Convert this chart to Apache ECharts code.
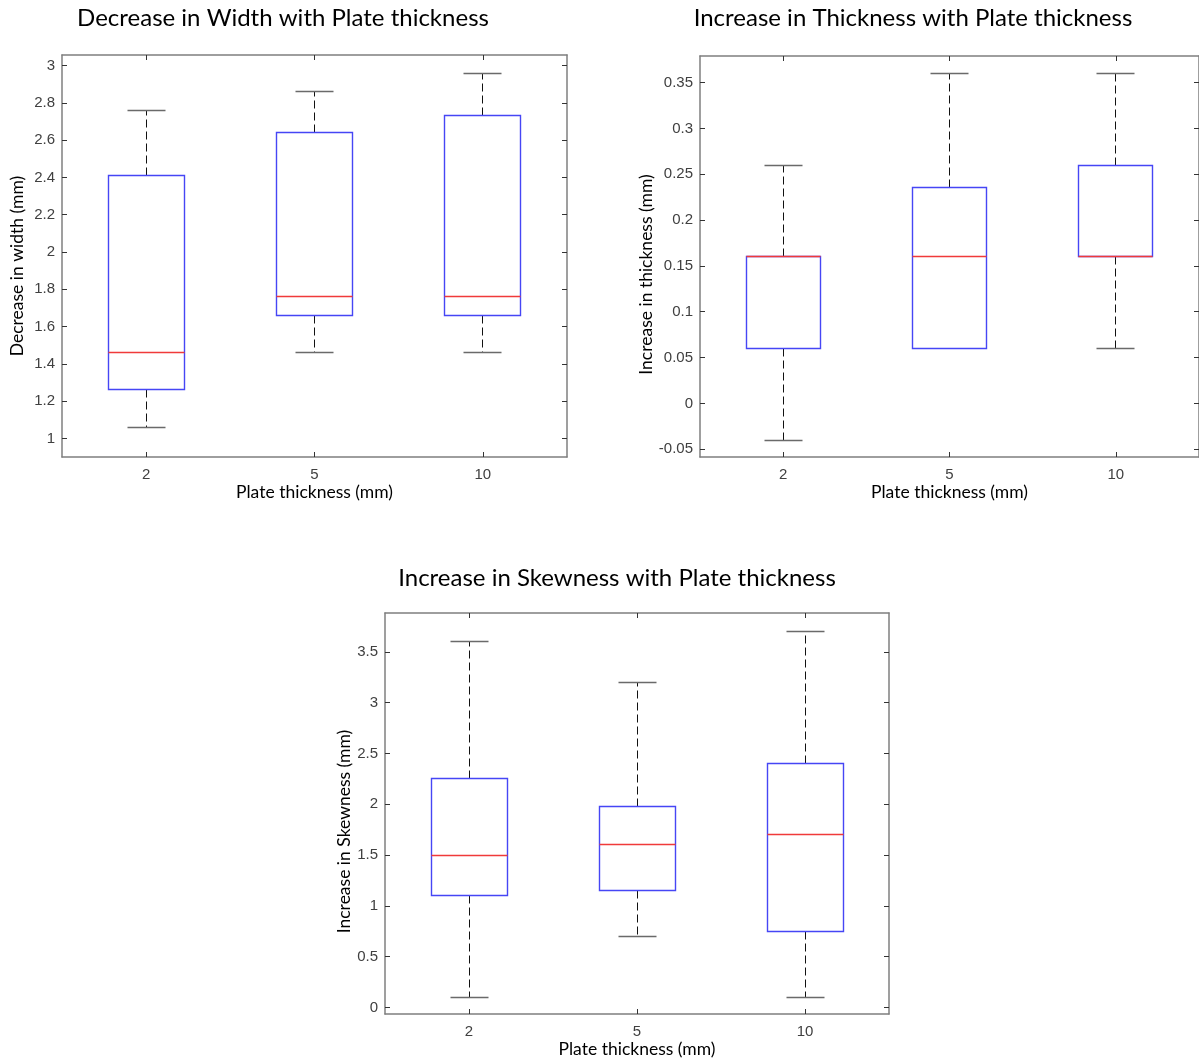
<!DOCTYPE html>
<html><head><meta charset="utf-8">
<script src="https://cdn.jsdelivr.net/npm/echarts@6/dist/echarts.min.js"></script>
<style>html,body{margin:0;padding:0;background:#fff}#c{width:1199px;height:1059px}</style>
</head><body><div id="c"></div>
<script>
const categories = ['2', '5', '10'];
// each row: [min, q1, median, q3, max]
const widthStats = [[1.06, 1.26, 1.46, 2.41, 2.76], [1.46, 1.66, 1.76, 2.64, 2.86], [1.46, 1.66, 1.76, 2.735, 2.96]];
const thicknessStats = [[-0.04, 0.06, 0.16, 0.16, 0.26], [0.06, 0.06, 0.16, 0.235, 0.36], [0.06, 0.16, 0.16, 0.26, 0.36]];
const skewStats = [[0.1, 1.1, 1.5, 2.25, 3.6], [0.7, 1.15, 1.6, 1.98, 3.2], [0.1, 0.75, 1.7, 2.4, 3.7]];
const widthTicks = [1, 1.2, 1.4, 1.6, 1.8, 2, 2.2, 2.4, 2.6, 2.8, 3];
const thicknessTicks = [-0.05, 0, 0.05, 0.1, 0.15, 0.2, 0.25, 0.3, 0.35];
const skewTicks = [0, 0.5, 1, 1.5, 2, 2.5, 3, 3.5];
const widthRange = [0.9, 3.057];
const thicknessRange = [-0.0585, 0.379];
const skewRange = [-0.065, 3.883];

const titleFont = 'Lato, "Noto Sans", sans-serif';
const tickFont = '"Liberation Sans", Arial, sans-serif';
const axisColor = '#7f7f7f';
const tickColor = '#333333';
const labelColor = '#404040';

const panels = [
  {title: 'Decrease in Width with Plate thickness', tx: 283, ty: 18, yName: 'Decrease in width (mm)',
   grid: {left: 62, top: 55, width: 505, height: 402}, stats: widthStats, ticks: widthTicks, range: widthRange, nameGap: 36, namePad: 20},
  {title: 'Increase in Thickness with Plate thickness', tx: 913, ty: 18, yName: 'Increase in thickness (mm)',
   grid: {left: 700, top: 56, width: 503, height: 401}, stats: thicknessStats, ticks: thicknessTicks, range: thicknessRange, nameGap: 39, namePad: 36},
  {title: 'Increase in Skewness with Plate thickness', tx: 617, ty: 578, yName: 'Increase in Skewness (mm)',
   grid: {left: 385, top: 613, width: 504, height: 401}, stats: skewStats, ticks: skewTicks, range: skewRange, nameGap: 32, namePad: 36}
];

function crisp(v) { return Math.round(v - 0.5) + 0.5; }

function renderBox(params, api) {
  const i = api.value(0);
  const mn = api.value(1), q1 = api.value(2), md = api.value(3), q3 = api.value(4), mx = api.value(5);
  const cx = crisp(api.coord([i, md])[0]);
  const band = api.size([1, 0])[0];
  const half = Math.round(band * 0.225);
  const capHalf = Math.round(band * 0.1125);
  const y = v => crisp(api.coord([i, v])[1]);
  const yMn = y(mn), yQ1 = y(q1), yMd = y(md), yQ3 = y(q3), yMx = y(mx);
  const whisk = {stroke: '#111111', lineWidth: 1, lineDash: [8, 4]};
  const cap = {stroke: '#6a6a6a', lineWidth: 1.5};
  const children = [];
  if (yMx < yQ3) {
    children.push({type: 'line', shape: {x1: cx, y1: yQ3, x2: cx, y2: yMx}, style: whisk});
    children.push({type: 'line', shape: {x1: cx - capHalf, y1: yMx, x2: cx + capHalf, y2: yMx}, style: cap});
  }
  if (yMn > yQ1) {
    children.push({type: 'line', shape: {x1: cx, y1: yQ1, x2: cx, y2: yMn}, style: whisk});
    children.push({type: 'line', shape: {x1: cx - capHalf, y1: yMn, x2: cx + capHalf, y2: yMn}, style: cap});
  }
  children.push({type: 'rect', shape: {x: cx - half, y: yQ3, width: 2 * half, height: yQ1 - yQ3},
    style: {fill: 'none', stroke: '#4646f5', lineWidth: 1.4}});
  children.push({type: 'line', shape: {x1: cx - half, y1: yMd, x2: cx + half, y2: yMd}, style: {stroke: '#f03a3a', lineWidth: 1.3}});
  return {type: 'group', children: children};
}

const option = {
  backgroundColor: '#ffffff',
  animation: false,
  title: [], grid: [], xAxis: [], yAxis: [], series: []
};

panels.forEach((p, k) => {
  option.title.push({text: p.title, left: p.tx, top: p.ty, padding: 0, textAlign: 'center', textVerticalAlign: 'middle',
    textStyle: {fontFamily: titleFont, fontSize: 24, fontWeight: 'normal', color: '#000000'}});
  option.grid.push(Object.assign({containLabel: false}, p.grid));
  const xBase = {type: 'category', data: categories, gridIndex: k,
    axisLine: {show: true, onZero: false, lineStyle: {color: axisColor, width: 1.5}},
    axisTick: {show: true, inside: true, alignWithLabel: true, length: 5, lineStyle: {color: tickColor}},
    splitLine: {show: false}};
  option.xAxis.push(Object.assign({}, xBase, {position: 'bottom',
    name: 'Plate thickness (mm)', nameLocation: 'middle', nameGap: 25,
    nameTextStyle: {fontFamily: titleFont, fontSize: 17.5, color: '#000000'},
    axisLabel: {show: true, margin: 10, fontFamily: tickFont, fontSize: 15, color: labelColor}}));
  option.xAxis.push(Object.assign({}, xBase, {position: 'top', axisLabel: {show: false}}));
  const yBase = {type: 'value', gridIndex: k, min: p.range[0], max: p.range[1],
    axisLine: {show: true, onZero: false, lineStyle: {color: axisColor, width: 1.5}},
    axisTick: {show: true, inside: true, length: 5, customValues: p.ticks, lineStyle: {color: tickColor}},
    splitLine: {show: false}};
  option.yAxis.push(Object.assign({}, yBase, {position: 'left',
    name: p.yName, nameLocation: 'middle', nameGap: p.nameGap,
    nameTextStyle: {fontFamily: titleFont, fontSize: 17.5, color: '#000000', padding: [0, p.namePad, 0, 0]},
    axisLabel: {show: true, margin: 7, customValues: p.ticks, fontFamily: tickFont, fontSize: 15, color: labelColor}}));
  option.yAxis.push(Object.assign({}, yBase, {position: 'right', axisLabel: {show: false}}));
  option.series.push({type: 'custom', xAxisIndex: 2 * k, yAxisIndex: 2 * k, renderItem: renderBox,
    encode: {x: 0, y: [1, 2, 3, 4, 5]},
    data: p.stats.map((s, i) => [i].concat(s))});
});

const chart = echarts.init(document.getElementById('c'), null, {renderer: 'canvas'});
chart.setOption(option);
</script>
</body></html>
